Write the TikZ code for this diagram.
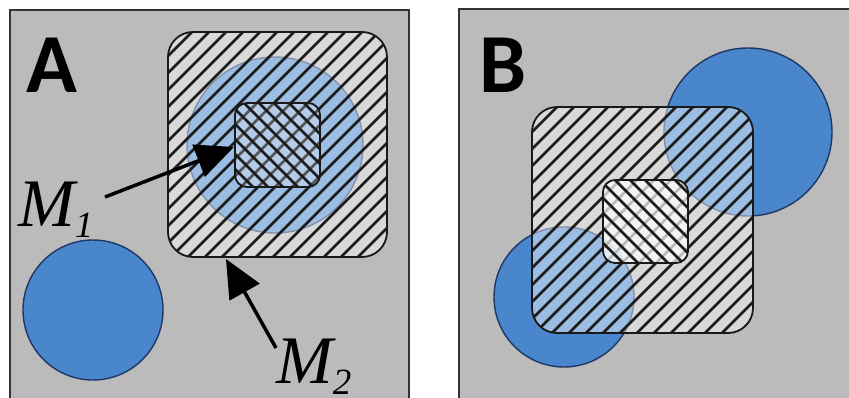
\documentclass[tikz,border=0pt]{standalone}
\usepackage{fontspec}
\setmainfont{Liberation Serif}
\newfontfamily\lblfont{Carlito}
\usetikzlibrary{arrows.meta}
\definecolor{bg}{RGB}{187,187,187}
\definecolor{blu}{RGB}{74,134,204}
\definecolor{navy}{RGB}{30,55,100}
\definecolor{hatch}{RGB}{28,28,28}
\tikzset{
  frame/.style={fill=bg, draw=black!80, line width=1.5pt},
  disc/.style={circle, fill=blu, draw=navy, line width=1.4pt, inner sep=0pt, outer sep=0pt},
  sq/.style={rectangle, inner sep=0pt, outer sep=0pt},
  veil/.style={fill=white, fill opacity=0.45},
  hl/.style={draw=hatch, line width=2.8pt},
  border/.style={draw=black!90, line width=1.8pt},
  ptr/.style={line width=3.5pt, -{Triangle[length=38pt,width=34pt]}},
  panel/.style={font=\lblfont\bfseries\fontsize{84}{84}\selectfont, anchor=base west, inner sep=0pt},
  mlabel/.style={font=\itshape\fontsize{68}{68}\selectfont, anchor=base west, inner sep=0pt},
}
\newcommand{\subdig}[1]{\raisebox{-11pt}{\fontsize{37}{37}\selectfont #1}}
\begin{document}
\begin{tikzpicture}[x=1pt,y=-1pt]
\useasboundingbox (0,0) rectangle (849,398);
\clip (0,0) rectangle (849,398);
\fill[white] (0,0) rectangle (849,398);

% ---------- Panel A ----------
\draw[frame] (10,10) rectangle (409,430);
\node[disc, minimum size=140pt] (dA1) at (93,310) {};
\node[disc, minimum size=176pt] (dA2) at (275,145) {};
\node[sq, minimum width=219pt, minimum height=225pt] (sA) at (277.5,144.5) {};
\node[sq, minimum width=85pt, minimum height=84pt] (iA) at (277.5,145) {};
\fill[veil, rounded corners=25pt] (sA.south west) rectangle (sA.north east);
\begin{scope}
  \clip[rounded corners=25pt] (sA.south west) rectangle (sA.north east);
  \foreach \c in {190,207,...,660} \draw[hl] (\c-500,500) -- (\c+50,-50);
\end{scope}
\fill[white, fill opacity=0.25, rounded corners=12pt] (iA.south west) rectangle (iA.north east);
\begin{scope}
  \clip[rounded corners=12pt] (iA.south west) rectangle (iA.north east);
  \foreach \c in {36,51,...,240} \draw[hl] (\c-50,-50) -- (\c+500,500);
\end{scope}
\draw[border, rounded corners=25pt] (sA.south west) rectangle (sA.north east);
\draw[border, rounded corners=12pt] (iA.south west) rectangle (iA.north east);

\node[panel] (lA) at (26,93) {A};
\node[mlabel] (m1) at (18,227) {M\subdig{1}};
\node[mlabel] (m2) at (276,383) {M\subdig{2}};
\coordinate (m1s) at (105,197);
\coordinate (m1t) at (234,147);
\coordinate (m2s) at (276,348);
\coordinate (m2t) at (226,259);
\draw[ptr] (m1s) -- (m1t);
\draw[ptr] (m2s) -- (m2t);

% ---------- Panel B ----------
\draw[frame] (459,9) rectangle (870,430);
\node[disc, minimum size=168pt] (dB1) at (748,132) {};
\node[disc, minimum size=140pt] (dB2) at (564,297) {};
\node[sq, minimum width=221pt, minimum height=226pt] (sB) at (642.5,220) {};
\node[sq, minimum width=85pt, minimum height=83pt] (iB) at (645.5,221.5) {};
\fill[veil, rounded corners=25pt] (sB.south west) rectangle (sB.north east);
\begin{scope}
  \clip[rounded corners=25pt] (sB.south west) rectangle (sB.north east);
  \foreach \c in {630,647,...,1100} \draw[hl] (\c-500,500) -- (\c+50,-50);
\end{scope}
\fill[white, fill opacity=0.7, rounded corners=12pt] (iB.south west) rectangle (iB.north east);
\begin{scope}
  \clip[rounded corners=12pt] (iB.south west) rectangle (iB.north east);
  \foreach \c in {330,345,...,520} \draw[hl] (\c-50,-50) -- (\c+500,500);
\end{scope}
\draw[border, rounded corners=25pt] (sB.south west) rectangle (sB.north east);
\draw[border, rounded corners=12pt] (iB.south west) rectangle (iB.north east);

\node[panel] (lB) at (479,93) {B};
\end{tikzpicture}
\end{document}
